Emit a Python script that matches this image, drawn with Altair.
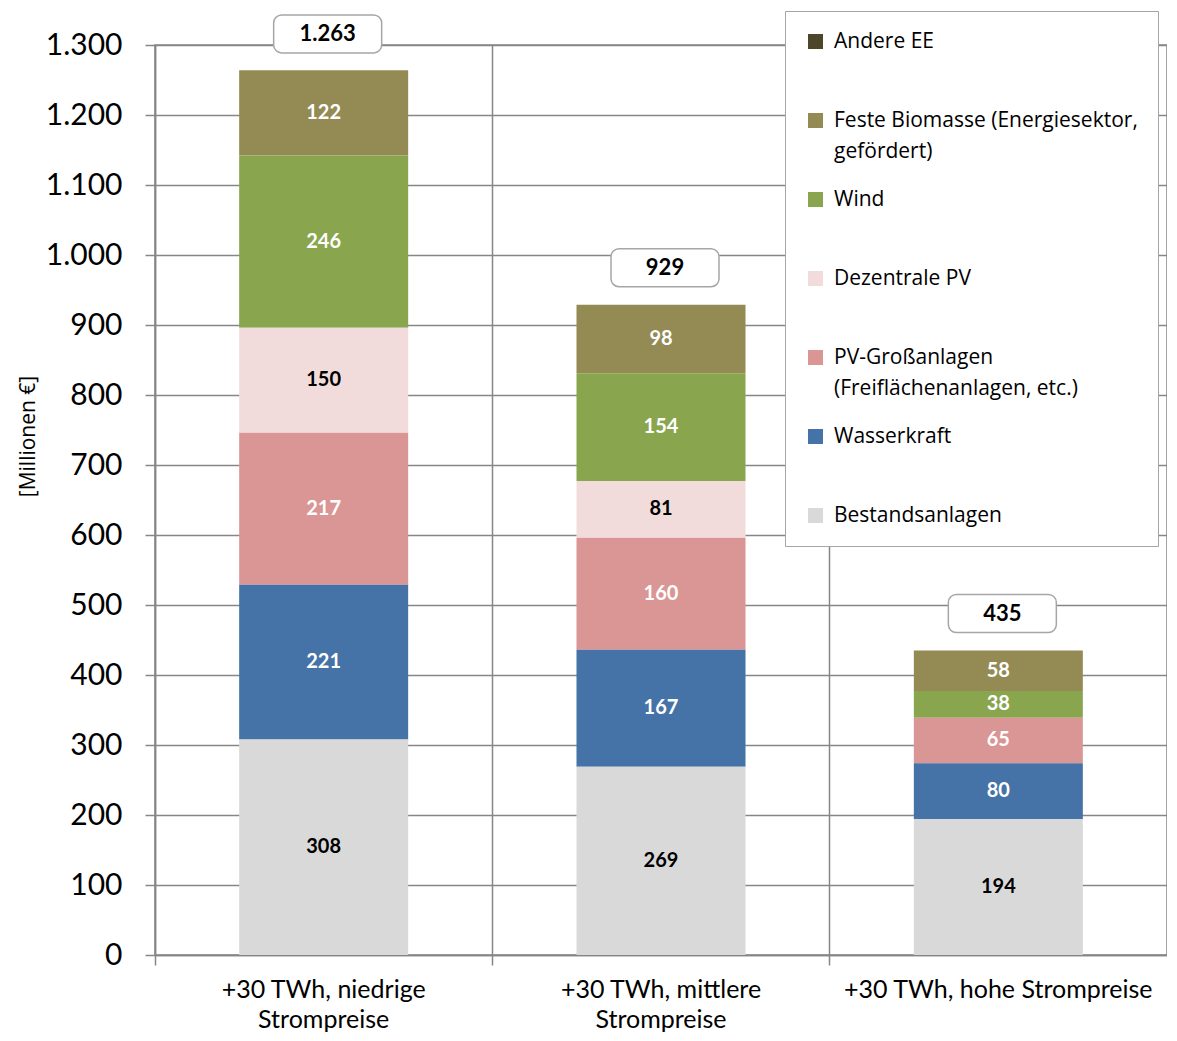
import altair as alt
import pandas as pd

categories = ["+30 TWh, niedrige|Strompreise", "+30 TWh, mittlere|Strompreise", "+30 TWh, hohe Strompreise"]
series = [
    "Andere EE",
    "Feste Biomasse (Energiesektor,|gefördert)",
    "Wind",
    "Dezentrale PV",
    "PV-Großanlagen|(Freiflächenanlagen, etc.)",
    "Wasserkraft",
    "Bestandsanlagen",
]
colors = ["#4d4628", "#948a54", "#89a54e", "#f2dcdb", "#da9694", "#4572a7", "#d9d9d9"]
label_colors = ["white", "white", "white", "black", "white", "white", "black"]

andere_ee = [0, 0, 0]
feste_biomasse = [122, 98, 58]
wind = [246, 154, 38]
dezentrale_pv = [150, 81, 0]
pv_gross = [217, 160, 65]
wasserkraft = [221, 167, 80]
bestand = [308, 269, 194]
totals = [1263, 929, 435]

series_values = [andere_ee, feste_biomasse, wind, dezentrale_pv, pv_gross, wasserkraft, bestand]

rows = []
for si, (s, vals) in enumerate(zip(series, series_values)):
    for ci, c in enumerate(categories):
        rows.append({"cat": c, "series": s, "value": vals[ci],
                     "order": len(series) - 1 - si, "lc": label_colors[si]})
df = pd.DataFrame(rows)
tot_df = pd.DataFrame({"cat": categories, "total": totals})

FONT = "Lato"
LFONT = "Open Sans"
GRID = "#868686"
ymax = 1300

xenc = alt.X("cat:N", sort=categories, title=None,
             scale=alt.Scale(paddingInner=0, paddingOuter=0),
             axis=alt.Axis(labelExpr="split(datum.label, '|')", labelAngle=0,
                           labelFontSize=25, labelFont=FONT, labelColor="black",
                           labelLineHeight=30, labelPadding=12, labelBaseline="top",
                           labelLimit=400,
                           tickSize=10, tickColor=GRID, tickWidth=1.5,
                           domainColor=GRID, domainWidth=1.5,
                           grid=True, gridColor=GRID, gridWidth=1.5,
                           bandPosition=0))

yscale = alt.Scale(domain=[0, ymax], nice=False)

bars = alt.Chart(df).mark_bar(size=169).encode(
    x=xenc,
    y=alt.Y("value:Q", stack="zero", scale=yscale, title="[Millionen €]",
            axis=alt.Axis(values=list(range(0, ymax + 1, 100)),
                          labelExpr="replace(format(datum.value, ','), ',', '.')",
                          labelFontSize=30, labelFont=FONT, labelColor="black",
                          labelPadding=23, tickSize=10, tickColor=GRID, tickWidth=1.5,
                          domainColor=GRID, domainWidth=1.5,
                          grid=True, gridColor=GRID, gridWidth=1.5,
                          titleFont=LFONT, titleFontSize=21, titleFontWeight="normal",
                          titleColor="black", titlePadding=7, titleY=391)),
    color=alt.Color("series:N", sort=series,
                    scale=alt.Scale(domain=series, range=colors),
                    legend=alt.Legend(title=None, orient="none", legendX=630, legendY=-34,
                                      direction="vertical",
                                      labelExpr="split(datum.label, '|')",
                                      labelFont=LFONT, labelFontSize=21, labelColor="black",
                                      labelLimit=420, labelOffset=8, labelBaseline="middle",
                                      symbolType="square", symbolSize=225, symbolStrokeWidth=0,
                                      symbolOpacity=1,
                                      gridAlign="all", rowPadding=26,
                                      fillColor="white", strokeColor="#a6a6a6",
                                      padding=20)),
    order=alt.Order("order:Q", sort="ascending"),
)

labels = alt.Chart(df).transform_stack(
    stack="value", groupby=["cat"], sort=[alt.SortField("order", "ascending")],
    as_=["y0", "y1"]
).transform_filter("datum.value > 0").transform_calculate(
    mid="(datum.y0 + datum.y1) / 2"
).mark_text(font=FONT, fontSize=20, fontWeight="bold").encode(
    x=alt.X("cat:N", sort=categories),
    y=alt.Y("mid:Q", scale=yscale),
    text=alt.Text("value:Q"),
    color=alt.Color("lc:N", scale=None),
)

boxes = alt.Chart(tot_df).mark_rect(width=108, height=38, cornerRadius=8, fill="white",
                                    stroke="#a6a6a6", strokeWidth=1.5, yOffset=-37,
                                    xOffset=4).encode(
    x=alt.X("cat:N", sort=categories),
    y=alt.Y("total:Q", scale=yscale),
)

tot_text = alt.Chart(tot_df).transform_calculate(
    lab="replace(format(datum.total, ','), ',', '.')"
).mark_text(font=FONT, fontSize=22, fontWeight="bold", color="black", yOffset=-37,
            xOffset=4).encode(
    x=alt.X("cat:N", sort=categories),
    y=alt.Y("total:Q", scale=yscale),
    text="lab:N",
)

chart = alt.layer(bars, labels, boxes, tot_text).properties(
    width=1012, height=910,
    autosize=alt.AutoSizeParams(type="none"),
    padding={"left": 147, "top": 37, "right": 0, "bottom": 78},
).configure(
    view=alt.ViewConfig(stroke=GRID, strokeWidth=1.5),
    style={"guide-label": {"lineHeight": 31}},
)

chart.save("out.html", embed_options={"renderer": "svg", "actions": False})
